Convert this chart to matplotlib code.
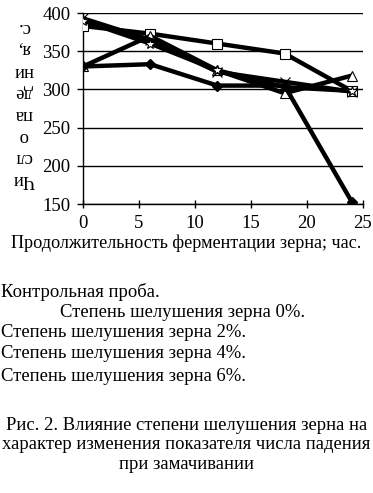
import matplotlib
matplotlib.use('Agg')
import matplotlib.pyplot as plt

plt.rcParams['font.family'] = ['Liberation Serif', 'DejaVu Serif']

# Hours of fermentation
hours = [0, 6, 12, 18, 24]

# Falling number, s
control = [330, 333, 305, 305, 153]
husk_0 = [383, 373, 360, 347, 298]
husk_2 = [330, 370, 325, 295, 318]
husk_4 = [393, 365, 323, 310, 297]
husk_6 = [390, 360, 325, 303, 298]

legend_lines = [
    'Контрольная проба.',
    'Степень шелушения зерна 0%.',
    'Степень шелушения зерна 2%.',
    'Степень шелушения зерна 4%.',
    'Степень шелушения зерна 6%.',
]
caption = ('Рис. 2. Влияние степени шелушения зерна на\n'
           'характер изменения показателя числа падения\n'
           'при замачивании')

fig = plt.figure(figsize=(3.73, 4.93), dpi=100)
ax = fig.add_axes([0.2225, 0.5862, 0.7505, 0.3874])

lw = 3.2
ax.plot(hours, control, color='black', lw=lw, marker='D', ms=5, mfc='black', zorder=5)
ax.plot(hours, husk_0, color='black', lw=lw, marker='s', ms=7, mfc='white', mew=0.8, zorder=4)
ax.plot(hours, husk_2, color='black', lw=lw, marker='^', ms=7, mfc='white', mew=0.8, zorder=4)
ax.plot(hours, husk_4, color='black', lw=lw, marker='x', ms=7, mew=0.8, zorder=4)
ax.plot(hours, husk_6, color='black', lw=lw, marker='*', ms=7, mfc='white', mew=0.8, zorder=4)

ax.set_xlim(0, 25)
ax.set_ylim(150, 400)
ax.set_xticks([0, 5, 10, 15, 20, 25])
ax.set_yticks([150, 200, 250, 300, 350, 400])
ax.yaxis.grid(True, color='black', lw=1)
ax.set_axisbelow(True)
for s in ['top', 'right']:
    ax.spines[s].set_visible(False)
ax.spines['left'].set_linewidth(1)
ax.spines['bottom'].set_linewidth(1)
ax.tick_params(axis='both', labelsize=13.5, width=1, pad=5)
ax.tick_params(axis='x', direction='inout', length=6)
ax.tick_params(axis='y', direction='out', length=4)

# upside-down y label
fig.text(0.064, 0.79, 'Чи\nсл\nо\nпа\nде\nни\nя,\nс.', rotation=180, ha='center', va='center',
         fontsize=13.4, linespacing=1.36)

fig.text(0.5, 0.507, 'Продолжительность ферментации зерна; час.', ha='center', va='center', fontsize=13.1)

ys = [0.408, 0.367, 0.325, 0.283, 0.236]
xs = [0.003, 0.16, 0.003, 0.003, 0.003]
for x, y, t in zip(xs, ys, legend_lines):
    fig.text(x, y, t, ha='left', va='center', fontsize=13.4)

fig.text(0.5, 0.098, caption, ha='center', va='center', fontsize=13.4, linespacing=1.2)

fig.savefig('out.png', dpi=100)
